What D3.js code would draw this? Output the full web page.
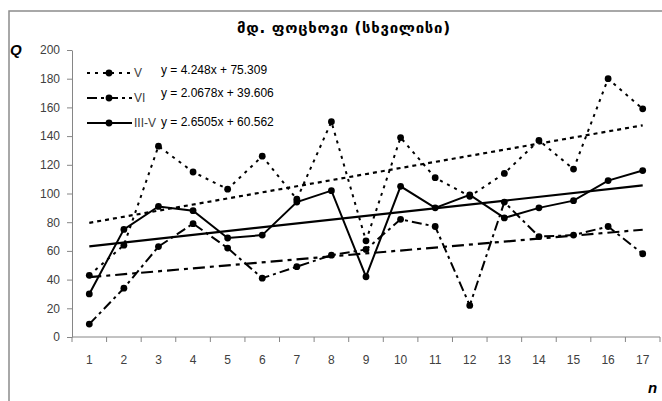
<!DOCTYPE html>
<html>
<head>
<meta charset="utf-8">
<script src="https://cdn.jsdelivr.net/npm/d3@7"></script>
<style>
  body { margin: 0; background: #fff; }
  svg { display: block; }
</style>
</head>
<body>
<div id="chart"></div>
<script>
// chart data
var categories = [1, 2, 3, 4, 5, 6, 7, 8, 9, 10, 11, 12, 13, 14, 15, 16, 17];
var valuesV    = [43, 64, 133, 115, 103, 126, 96, 150, 67, 139, 111, 98, 114, 137, 117, 180, 159];
var valuesVI   = [9, 34, 63, 79, 62, 41, 49, 57, 61, 82, 77, 22, 94, 70, 71, 77, 58];
var valuesIIIV = [30, 75, 91, 88, 69, 71, 94, 102, 42, 105, 90, 99, 83, 90, 95, 109, 116];
var seriesNames = ["V", "VI", "III-V"];
var trendSlopes = [4.248, 2.0678, 2.6505];
var trendIntercepts = [75.309, 39.606, 60.562];
var trendLabels = ["y = 4.248x + 75.309", "y = 2.0678x + 39.606", "y = 2.6505x + 60.562"];
var yTicks = [0, 20, 40, 60, 80, 100, 120, 140, 160, 180, 200];
var title = "მდ. ფოცხოვი (სხვილისი)";

var W = 662, H = 401;
var margin = {top: 50, right: 2, bottom: 64, left: 72};

var svg = d3.select("#chart").append("svg")
    .attr("width", W)
    .attr("height", H);

svg.append("rect").attr("width", W).attr("height", H).attr("fill", "#fff");

// outer chart frame (only top and left edges are visible)
svg.append("rect")
    .attr("x", 9).attr("y", 11)
    .attr("width", 700).attr("height", 500)
    .attr("fill", "none")
    .attr("stroke", "#8c8c8c")
    .attr("stroke-width", 1.5);

var x = d3.scaleBand()
    .domain(categories)
    .range([margin.left, W - margin.right]);

var y = d3.scaleLinear()
    .domain([0, 200])
    .range([H - margin.bottom, margin.top]);

var axisColor = "#868686";
var font = "'Liberation Sans', Arial, sans-serif";

// y axis
var gy = svg.append("g")
    .attr("transform", "translate(" + margin.left + ",0)")
    .call(d3.axisLeft(y).tickValues(yTicks).tickSize(5).tickPadding(7).tickSizeOuter(0));
gy.select(".domain").attr("stroke", axisColor);
gy.selectAll(".tick line").attr("stroke", axisColor);
gy.selectAll(".tick text")
    .attr("font-family", font).attr("font-size", "12px").attr("fill", "#404040");

// x axis: labels centred in each band, ticks on band borders
var gx = svg.append("g")
    .attr("transform", "translate(0," + y(0) + ")")
    .call(d3.axisBottom(x).tickSize(0).tickPadding(18));
gx.select(".domain").remove();
gx.selectAll(".tick text")
    .attr("font-family", font).attr("font-size", "12px").attr("fill", "#404040");
gx.append("line")
    .attr("x1", x.range()[0]).attr("x2", x.range()[1])
    .attr("stroke", axisColor);
gx.selectAll(".border")
    .data(categories.map(function(c) { return x(c); }).concat([x.range()[1]]))
    .enter().append("line")
    .attr("class", "border")
    .attr("x1", function(d) { return d; }).attr("x2", function(d) { return d; })
    .attr("y1", 0).attr("y2", 5)
    .attr("stroke", axisColor);

// title and axis letters
svg.append("text")
    .text(title)
    .attr("x", 237).attr("y", 33)
    .attr("textLength", 213)
    .attr("lengthAdjust", "spacing")
    .attr("font-family", "'DejaVu Sans', sans-serif")
    .attr("font-weight", "bold")
    .attr("font-size", "15px");

svg.append("text").text("Q")
    .attr("x", 10).attr("y", 55)
    .attr("font-family", font).attr("font-weight", "bold").attr("font-style", "italic")
    .attr("font-size", "15px");

svg.append("text").text("n")
    .attr("x", 648).attr("y", 393)
    .attr("font-family", font).attr("font-weight", "bold").attr("font-style", "italic")
    .attr("font-size", "15px");

var cx = function(i) { return x(categories[i]) + x.bandwidth() / 2; };

var allSeries = [
  {name: seriesNames[0], values: valuesV,    dash: "3,5",        trendDash: "4,4",         width: 2},
  {name: seriesNames[1], values: valuesVI,   dash: "10,4,3,4",   trendDash: "12,5,4,5",    width: 2},
  {name: seriesNames[2], values: valuesIIIV, dash: null,         trendDash: null,          width: 2}
];

var line = d3.line()
    .x(function(d, i) { return cx(i); })
    .y(function(d) { return y(d); });

// trend lines
allSeries.forEach(function(s, k) {
  var first = categories[0], last = categories[categories.length - 1];
  svg.append("line")
      .attr("x1", cx(0)).attr("y1", y(trendSlopes[k] * first + trendIntercepts[k]))
      .attr("x2", cx(categories.length - 1)).attr("y2", y(trendSlopes[k] * last + trendIntercepts[k]))
      .attr("stroke", "#000")
      .attr("stroke-width", 2.2)
      .attr("stroke-dasharray", s.trendDash);
});

// data lines with markers
allSeries.forEach(function(s) {
  svg.append("path")
      .datum(s.values)
      .attr("d", line)
      .attr("fill", "none")
      .attr("stroke", "#000")
      .attr("stroke-width", s.width)
      .attr("stroke-dasharray", s.dash);
  svg.selectAll(null)
      .data(s.values)
      .enter().append("circle")
      .attr("cx", function(d, i) { return cx(i); })
      .attr("cy", function(d) { return y(d); })
      .attr("r", 3.4)
      .attr("fill", "#000");
});

// legend
var legendY = [73, 98, 123];
var legend = svg.append("g");
allSeries.forEach(function(s, k) {
  var g = legend.append("g").attr("transform", "translate(87," + legendY[k] + ")");
  g.append("line")
      .attr("x1", 0).attr("x2", 45)
      .attr("stroke", "#000").attr("stroke-width", 2.2)
      .attr("stroke-dasharray", s.dash);
  g.append("circle").attr("cx", 22).attr("r", 3.4).attr("fill", "#000");
  g.append("text").text(s.name)
      .attr("x", 47).attr("y", 4)
      .attr("font-family", font).attr("font-size", "12px").attr("fill", "#404040");
});
trendLabels.forEach(function(t, k) {
  svg.append("text").text(t)
      .attr("x", 161).attr("y", [74, 97, 126][k])
      .attr("font-family", font).attr("font-size", "12px").attr("fill", "#000");
});
</script>
</body>
</html>
